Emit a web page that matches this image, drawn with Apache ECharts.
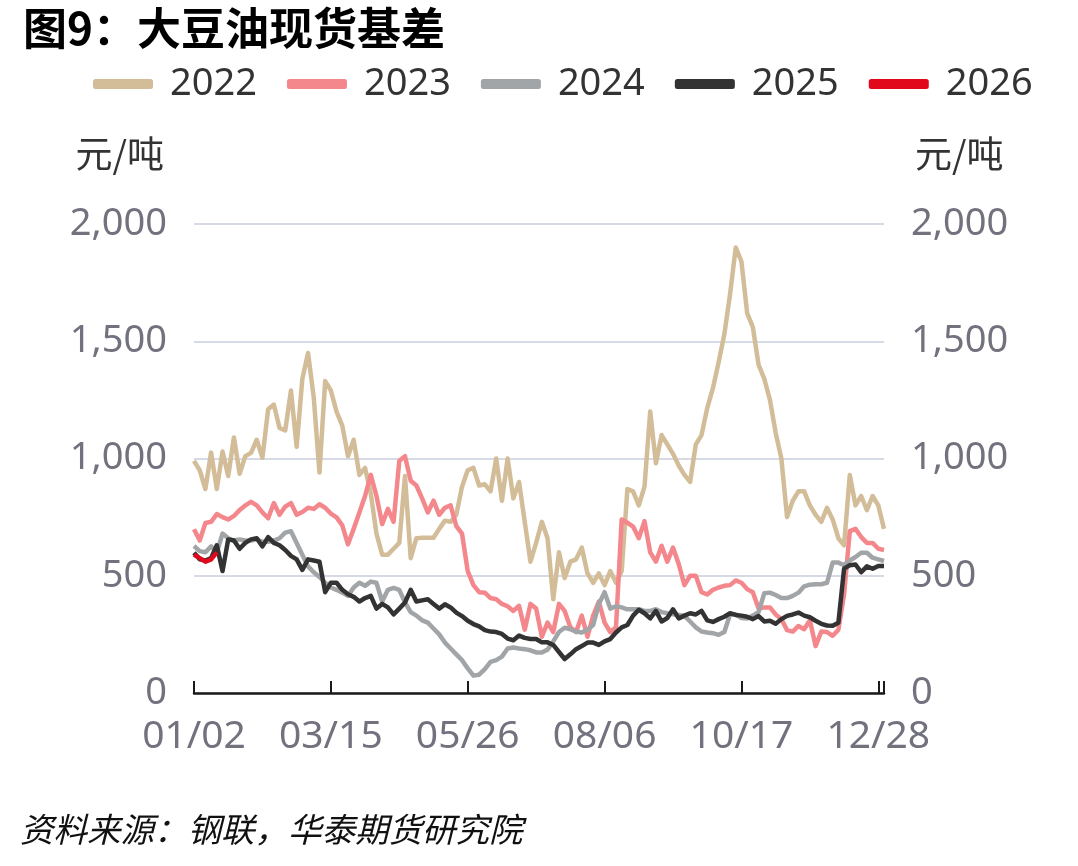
<!DOCTYPE html>
<html><head><meta charset="utf-8">
<script src="https://cdn.jsdelivr.net/npm/echarts@6/dist/echarts.min.js"></script>
<style>html,body{margin:0;padding:0;background:#fff}#c{width:1078px;height:866px}</style>
</head><body><div id="c"></div>
<script>
const titleText = '图9：大豆油现货基差';
const sourceText = '资料来源：钢联，华泰期货研究院';
const unitText = '元/吨';
const seriesNames = ['2022', '2023', '2024', '2025', '2026'];
const colors = ['#D2BD98', '#F4878C', '#A2A5A8', '#333333', '#E0081A'];
const yTickLabels = { 0: '0', 500: '500', 1000: '1,000', 1500: '1,500', 2000: '2,000' };

// categories: every calendar day 01/02 .. 12/31
const categories = [];
(function () {
  const d = new Date(Date.UTC(2023, 0, 2));
  while (d.getUTCFullYear() === 2023) {
    categories.push(String(d.getUTCMonth() + 1).padStart(2, '0') + '/' + String(d.getUTCDate()).padStart(2, '0'));
    d.setUTCDate(d.getUTCDate() + 1);
  }
})();

// values, one every STEP days starting 01/02
const STEP = 3;
const v2022 = [
  990, 950, 870, 1025, 870, 1030, 925, 1090, 935, 1010,
  1024, 1080, 1003, 1210, 1230, 1130, 1120, 1290, 1050, 1340,
  1450, 1260, 940, 1330, 1290, 1200, 1140, 1010, 1080, 930,
  960, 850, 680, 590, 590, 615, 640, 925, 575, 660,
  662, 662, 662, 700, 735, 730, 760, 880, 950, 960,
  885, 890, 860, 1000, 820, 1000, 830, 900, 730, 560,
  640, 730, 660, 400, 600, 490, 560, 570, 620, 510,
  470, 510, 460, 520, 470, 520, 870, 860, 800, 880,
  1200, 980, 1100, 1060, 1020, 970, 930, 900, 1060, 1100,
  1215, 1300, 1410, 1530, 1700, 1900, 1840, 1620, 1560, 1400,
  1340, 1250, 1110, 1000, 750, 820, 860, 860, 800, 760,
  730, 790, 740, 660, 630, 930, 800, 840, 780, 840,
  800, 700
];
const v2023 = [
  698, 650, 725, 730, 763, 750, 740, 755, 780, 800,
  815, 800, 770, 745, 810, 760, 795, 810, 760, 772,
  790, 785, 805, 790, 765, 749, 715, 634, 700, 770,
  840, 930, 840, 720, 785, 730, 990, 1010, 905, 885,
  830, 770, 820, 760, 790, 800, 712, 680, 520, 460,
  430, 428, 405, 400, 380, 370, 350, 372, 270, 380,
  360, 240, 300, 260, 380, 350, 280, 260, 330, 240,
  330, 390, 300, 260, 280, 740, 726, 710, 660, 733,
  600, 560, 628, 560, 620, 550, 460, 500, 500, 430,
  420, 440, 450, 457, 460, 480, 470, 443, 430, 360,
  365, 365, 335, 315, 268, 262, 286, 272, 310, 200,
  262, 260, 244, 270, 420, 690, 700, 665, 640, 640,
  615, 610
];
const v2024 = [
  627, 605, 600, 625, 600, 680, 660, 650, 655, 650,
  650, 655, 645, 645, 650, 660, 684, 690, 640, 590,
  540, 515, 495, 470, 450, 440, 428, 414, 450, 470,
  457, 475, 470, 390, 440, 448, 440, 386, 345, 330,
  310, 300, 275, 250, 215, 190, 165, 140, 105, 74,
  78, 102, 133, 140, 155, 190, 194, 190, 187, 182,
  173, 173, 185, 220, 260, 278, 272, 262, 258, 270,
  290, 380, 430, 360, 370, 365, 357, 357, 357, 350,
  350, 357, 345, 340, 336, 333, 329, 305, 280, 262,
  258, 255, 248, 260, 335, 335, 320, 318, 330, 345,
  425, 428, 418, 405, 405, 414, 428, 455, 462, 464,
  464, 470, 556, 556, 545, 565, 580, 598, 598, 577,
  570, 563
];
const v2025 = [
  598, 570, 565, 575, 630, 520, 655, 650, 615, 640,
  655, 660, 625, 665, 640, 630, 610, 585, 570, 525,
  570, 565, 560, 430, 470, 470, 440, 421, 410, 390,
  405, 414, 360, 380, 365, 335, 360, 386, 440, 390,
  395, 400, 380, 360, 378, 365, 343, 328, 308, 294,
  284, 268, 262, 260, 252, 232, 225, 245, 235, 230,
  230, 216, 216, 205, 175, 145, 165, 187, 200, 215,
  215, 205, 220, 230, 258, 280, 290, 330, 355, 340,
  318, 350, 305, 320, 357, 318, 330, 340, 335, 350,
  310, 303, 315, 325, 340, 333, 330, 325, 315, 328,
  305, 308, 295, 315, 329, 335, 343, 330, 323, 308,
  295, 288, 287, 300, 530, 545, 548, 515, 540, 530,
  542, 542
];
const v2026 = [590, 575, 560, 570, 600];

function build(vals) {
  const arr = new Array(categories.length).fill(null);
  vals.forEach((v, i) => { if (i * STEP < arr.length) arr[i * STEP] = v; });
  return arr;
}
const allValues = [v2022, v2023, v2024, v2025, v2026];

const FONT = "'Noto Sans','Noto Sans CJK SC',sans-serif";
const CJK = "'Noto Sans CJK SC',sans-serif";
const chart = echarts.init(document.getElementById('c'), null, { renderer: 'canvas' });
const axisLabelColor = '#72727f';

chart.setOption({
  animation: false,
  backgroundColor: '#ffffff',
  textStyle: { fontFamily: FONT },
  title: {
    text: titleText, left: 18, top: 1,
    textStyle: { fontSize: 44, fontWeight: 'bold', color: '#000', fontFamily: CJK }
  },
  legend: {
    data: seriesNames, left: 88, top: 60, icon: 'roundRect',
    itemWidth: 60, itemHeight: 10, itemGap: 30,
    textStyle: { fontSize: 38, color: '#333', padding: [0, 0, 0, 12] }
  },
  grid: { left: 194, right: 194, top: 224, bottom: 173, containLabel: false },
  xAxis: {
    type: 'category', data: categories, boundaryGap: false,
    axisLine: { lineStyle: { color: '#1a1a1a', width: 2.5 } },
    axisTick: { inside: true, length: 12, lineStyle: { color: '#1a1a1a', width: 2 },
      interval: (i) => i % 72 === 0 || i === categories.length - 1 },
    axisLabel: { interval: (i) => i % 72 === 0, fontSize: 39, color: axisLabelColor, margin: 24, fontFamily: FONT },
    splitLine: { show: false }
  },
  yAxis: [
    {
      type: 'value', min: 0, max: 2000, interval: 500, position: 'left',
      name: unitText, nameLocation: 'end', nameGap: 52,
      nameTextStyle: { fontSize: 37, color: '#333', align: 'right', padding: [0, 30, 0, 0], fontFamily: CJK },
      axisLine: { show: false }, axisTick: { show: false },
      axisLabel: { fontSize: 38, color: axisLabelColor, margin: 27, formatter: (v) => yTickLabels[v] },
      splitLine: { lineStyle: { color: '#d5dae6', width: 2 } }
    },
    {
      type: 'value', min: 0, max: 2000, interval: 500, position: 'right',
      name: unitText, nameLocation: 'end', nameGap: 52,
      nameTextStyle: { fontSize: 37, color: '#333', align: 'left', padding: [0, 0, 0, 31], fontFamily: CJK },
      axisLine: { show: false }, axisTick: { show: false },
      axisLabel: { fontSize: 38, color: axisLabelColor, margin: 27, formatter: (v) => yTickLabels[v] },
      splitLine: { show: false }
    }
  ],
  graphic: [{
    type: 'text', left: 20, top: 813,
    style: { text: sourceText, fontSize: 33.5, fontStyle: 'italic', fill: '#111', fontFamily: CJK }
  }],
  series: seriesNames.map((name, k) => ({
    name, type: 'line', data: build(allValues[k]), connectNulls: true,
    showSymbol: false, symbol: 'none', yAxisIndex: 0,
    lineStyle: { width: 4.5, color: colors[k], join: 'round' },
    itemStyle: { color: colors[k] }, z: 2 + k
  }))
});
</script>
</body></html>
